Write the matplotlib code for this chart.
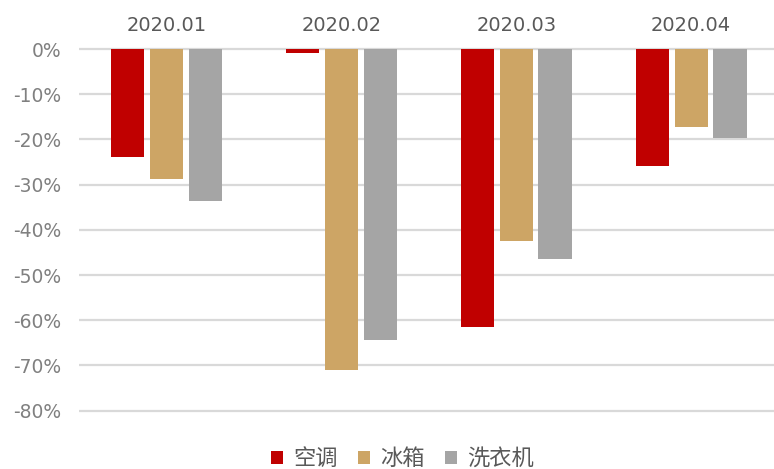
import numpy as np
import matplotlib
matplotlib.use('Agg')
import matplotlib.pyplot as plt
from matplotlib.patches import Patch

plt.rcParams['font.family'] = ['Noto Sans CJK SC', 'DejaVu Sans']

# Monthly year-on-year change (%) by product
months = ['2020.01', '2020.02', '2020.03', '2020.04']
air_con = [-23.8, -0.9, -61.4, -25.8]
fridge = [-28.8, -71.0, -42.5, -17.3]
washer = [-33.6, -64.4, -46.5, -19.7]
series_names = ['空调', '冰箱', '洗衣机']
colors = ['#C00000', '#CDA565', '#A5A5A5']
yticks = [0, -10, -20, -30, -40, -50, -60, -70, -80]

fig = plt.figure(figsize=(7.74, 4.69), dpi=100)
ax = fig.add_axes([0.102, 0.1147, 0.904, 0.7904])

x = np.arange(len(months))
width = 0.19
offset = 0.222
for i, (vals, c) in enumerate(zip([air_con, fridge, washer], colors)):
    ax.bar(x + (i - 1) * offset, vals, width, color=c, zorder=3)

ax.set_xlim(-0.5, len(months) - 0.5)
ax.set_ylim(-81, 1)
ax.set_yticks(yticks)
ax.set_yticklabels([f'{v}%' for v in yticks], fontsize=13.5, color='#808080',
                   family=['DejaVu Sans'])
ax.yaxis.grid(True, color='#D9D9D9', linewidth=1.6, zorder=0)

ax.xaxis.tick_top()
ax.set_xticks(x)
ax.set_xticklabels(months, fontsize=14, color='#595959', family=['DejaVu Sans'])
ax.tick_params(length=0)
ax.tick_params(axis='x', pad=7)
ax.tick_params(axis='y', pad=13)
for s in ax.spines.values():
    s.set_visible(False)

handles = [Patch(facecolor=c, edgecolor='none') for c in colors]
fig.legend(handles, series_names, loc='lower center', bbox_to_anchor=(0.52, -0.045),
           ncol=3, frameon=False, fontsize=16, handlelength=0.55, handleheight=0.55,
           handletextpad=0.45, columnspacing=0.9, labelcolor='#595959')

fig.savefig('out.png', dpi=100)
